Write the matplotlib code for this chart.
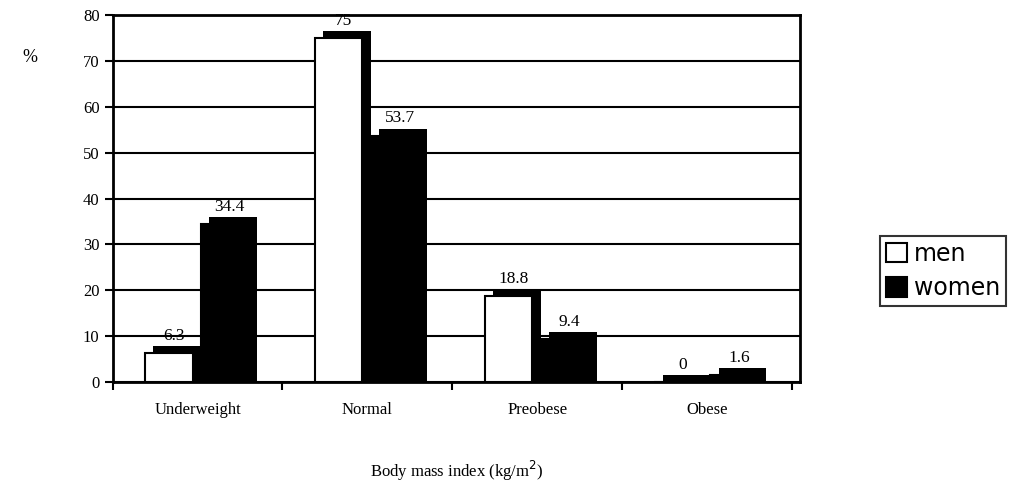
import matplotlib
matplotlib.use("Agg")
import matplotlib.pyplot as plt
import numpy as np

categories = ["Underweight", "Normal", "Preobese", "Obese"]
men = [6.3, 75, 18.8, 0]
women = [34.4, 53.7, 9.4, 1.6]
men_labels = ["6.3", "75", "18.8", "0"]
women_labels = ["34.4", "53.7", "9.4", "1.6"]
yticks = [0, 10, 20, 30, 40, 50, 60, 70, 80]

serif = ["Liberation Serif", "DejaVu Serif"]

fig = plt.figure(figsize=(10.34, 4.97), dpi=100)
ax = fig.add_axes([0.109, 0.231, 0.665, 0.739])

x = np.arange(len(categories))
w = 0.28
dx, dy = 0.05, 1.5
ax.set_axisbelow(True)
ax.yaxis.grid(True, color="black", lw=1.5)
men_x = x - 0.17
women_x = x + 0.16
# depth (3-D look) behind the front faces
ax.bar(men_x + dx, np.array(men) + dy, w, color="black", lw=0, zorder=2.5)
ax.bar(women_x + dx, np.array(women) + dy, w, color="black", lw=0, zorder=2.5)
ax.bar(men_x, men, w, color="white", edgecolor="black", lw=1.5, label="men", zorder=3)
ax.bar(women_x, women, w, color="black", edgecolor="black", lw=1.5, label="women", zorder=3)

for xi, v, t in zip(men_x, men, men_labels):
    ax.text(xi + 0.03, v + dy + 0.5, t, ha="center", va="bottom", fontsize=12.5,
            family=serif, zorder=4)
for xi, v, t in zip(women_x, women, women_labels):
    ax.text(xi + 0.03, v + dy + 0.5, t, ha="center", va="bottom", fontsize=12.5,
            family=serif, zorder=4,
            bbox=dict(facecolor="white", edgecolor="none", pad=0.5) if v > 50 else None)

ax.set_xlim(-0.5, 3.55)
ax.set_ylim(0, 80)
ax.set_yticks(yticks)
ax.set_yticklabels([str(t) for t in yticks], family=serif, fontsize=12)
ax.set_xticks(np.arange(-0.5, 4.0, 1.0), minor=False)
ax.set_xticklabels([])
ax.set_xticks(x, minor=True)
ax.set_xticklabels(categories, minor=True, family=serif, fontsize=12)
ax.tick_params(axis="x", which="minor", length=0, pad=14)
ax.tick_params(axis="x", which="major", length=6, width=1.5)
ax.tick_params(axis="y", length=6, width=1.5)
for s in ax.spines.values():
    s.set_linewidth(2)

ax.set_xlabel("Body mass index (kg/m$^2$)", family=serif, fontsize=12, labelpad=30)
fig.text(0.022, 0.875, "%", family=serif, fontsize=13)

leg = fig.legend(loc="center left", bbox_to_anchor=(0.851, 0.455), frameon=True,
                 fancybox=False, edgecolor="black", fontsize=17, handlelength=0.9,
                 handleheight=0.9, borderpad=0.25, labelspacing=0.45, handletextpad=0.3,
                 borderaxespad=0)
leg.get_frame().set_linewidth(1.5)

fig.savefig("out.png", dpi=100)
